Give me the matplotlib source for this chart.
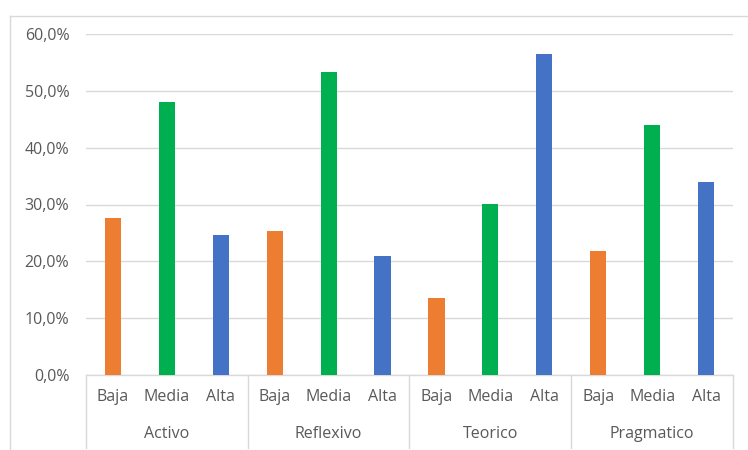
import matplotlib
matplotlib.use("Agg")
import matplotlib.pyplot as plt
from matplotlib.transforms import blended_transform_factory
from matplotlib.ticker import FuncFormatter
from matplotlib.lines import Line2D

groups = ["Activo", "Reflexivo", "Teorico", "Pragmatico"]
levels = ["Baja", "Media", "Alta"]
values = {
    "Activo":     [27.6, 48.0, 24.6],
    "Reflexivo":  [25.4, 53.4, 21.0],
    "Teorico":    [13.5, 30.1, 56.5],
    "Pragmatico": [21.9, 44.0, 33.9],
}
colors = ["#ED7D31", "#00B050", "#4472C4"]
yticks = [0, 10, 20, 30, 40, 50, 60]

plt.rcParams['font.family'] = ['Open Sans', 'DejaVu Sans']
txt = "#595959"
grid = "#D9D9D9"
fs = 11.5

fig = plt.figure(figsize=(7.48, 4.5), dpi=100)
ax = fig.add_axes([86/748, 75/450, (733-86)/748, 341/450])

xs, hs, cs, labs = [], [], [], []
for gi, g in enumerate(groups):
    for li, lv in enumerate(levels):
        xs.append(gi*3 + li)
        hs.append(values[g][li])
        cs.append(colors[li])
        labs.append(lv)
ax.bar(xs, hs, width=0.3, color=cs, zorder=3)

ax.set_xlim(-0.5, len(xs) - 0.5)
ax.set_ylim(0, 60)
ax.set_yticks(yticks)
ax.yaxis.set_major_formatter(FuncFormatter(lambda v, p: f"{v:.1f}%".replace(".", ",")))
ax.tick_params(axis='y', length=0, pad=12, labelsize=fs, labelcolor=txt)
ax.set_xticks([])
ax.grid(axis='y', color=grid, linewidth=1, zorder=0)
for s in ["top", "right", "left"]:
    ax.spines[s].set_visible(False)
ax.spines["bottom"].set_color(grid)
ax.spines["bottom"].set_linewidth(1)

tr = blended_transform_factory(ax.transData, ax.transAxes)
for x, lab in zip(xs, labs):
    ax.text(x, -0.065, lab, transform=tr, ha='center', va='center', fontsize=fs, color=txt)
for gi, g in enumerate(groups):
    ax.text(gi*3 + 1, -0.173, g, transform=tr, ha='center', va='center', fontsize=fs, color=txt)
for b in range(len(groups) + 1):
    ax.plot([b*3 - 0.5, b*3 - 0.5], [0, -0.215], transform=tr, color=grid, lw=1, clip_on=False)

# outer chart border
fig.add_artist(Line2D([10/748, 10/748], [0, 1 - 16/450], transform=fig.transFigure, color=grid, lw=1))
fig.add_artist(Line2D([10/748, 1], [1 - 16/450, 1 - 16/450], transform=fig.transFigure, color=grid, lw=1))

fig.savefig("out.png", dpi=100)
